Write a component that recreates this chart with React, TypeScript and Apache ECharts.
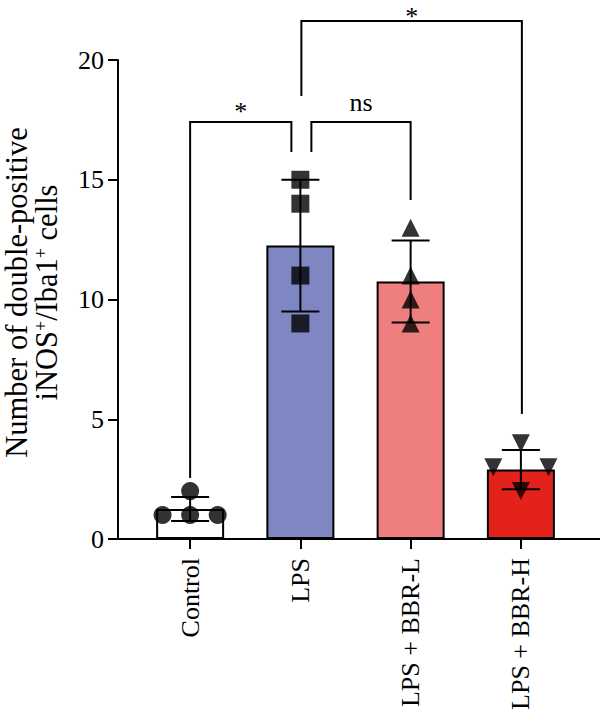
import React, { useEffect, useRef } from "react";
import * as echarts from "echarts";

// Groups and their summary values
const categories = ["Control", "LPS", "LPS + BBR-L", "LPS + BBR-H"];
const means = [1.25, 12.25, 10.75, 2.9];
const sds = [0.5, 2.75, 1.71, 0.82];

// Individual counts per group
const controlPoints = [1, 1, 1, 2];
const lpsPoints = [15, 14, 11, 9];
const bbrLPoints = [13, 11, 10, 9];
const bbrHPoints = [4, 3, 3, 2];

// Y-axis ticks
const yTicks = [0, 5, 10, 15, 20];

const barColors = ["#ffffff", "#7f87c3", "#ef7f7f", "#e3221b"];
const pointSymbols = ["circle", "rect", "triangle", "triangle"];
const pointRotations = [0, 0, 0, 180];

// Significance brackets: [from group, to group, label, bar height, left leg end, right leg end, left inset px, right inset px]
const brackets: [number, number, string, number, number, number, number, number][] = [
  [0, 1, "*", 17.41, 2.55, 16.16, 0, -9],
  [1, 2, "ns", 17.41, 16.16, 14.15, 11, 0],
  [1, 3, "*", 21.63, 18.5, 5.22, 1, 1],
];

const FONT = "'Liberation Serif', 'Times New Roman', serif";

// Spread repeated values sideways so identical points don't overlap
function swarm(values: number[], groupIndex: number, step: number) {
  const seen: Record<string, number> = {};
  const counts: Record<string, number> = {};
  values.forEach((v) => (counts[v] = (counts[v] || 0) + 1));
  return values.map((v) => {
    const n = counts[v];
    const k = seen[v] || 0;
    seen[v] = k + 1;
    let off = 0;
    if (n > 1) {
      if (n % 2 === 1) off = k - (n - 1) / 2;
      else {
        const half = n / 2;
        off = k < half ? -(half - k) : k - half + 1;
      }
    }
    return [groupIndex + off * step, v];
  });
}

export default function App() {
  const ref = useRef<HTMLDivElement>(null);

  useEffect(() => {
    if (!ref.current) return;
    const chart = echarts.init(ref.current, undefined, { renderer: "svg" });

    const groups = [controlPoints, lpsPoints, bbrLPoints, bbrHPoints];

    const pointSeries = groups.map((vals, gi) => ({
      type: "scatter",
      xAxisIndex: 2,
      yAxisIndex: 0,
      symbol: pointSymbols[gi],
      symbolRotate: pointRotations[gi],
      symbolSize: 18,
      itemStyle: { color: "#000000" },
      z: 5,
      silent: true,
      data: swarm(vals, gi, 0.25),
    }));

    const option = {
      animation: false,
      backgroundColor: "#ffffff",
      grid: [
        { left: 135, right: 24, top: 60, bottom: 171, containLabel: false, outerBoundsMode: "none" },
        { left: 118, right: 0, top: 60, bottom: 171, containLabel: false, outerBoundsMode: "none" },
      ],
      xAxis: [
        {
          type: "category",
          gridIndex: 0,
          position: "bottom",
          data: categories,
          boundaryGap: true,
          axisLine: { show: false },
          axisTick: { show: false },
          axisLabel: {
            rotate: 90,
            interval: 0,
            fontSize: 26,
            fontFamily: FONT,
            color: "#000",
            margin: 19,
          },
          splitLine: { show: false },
        },
        {
          type: "value",
          gridIndex: 1,
          position: "bottom",
          min: 0,
          max: 1,
          axisLine: { show: true, onZero: false, lineStyle: { color: "#000", width: 2 } },
          axisTick: { show: false },
          axisLabel: { show: false },
          splitLine: { show: false },
        },
        {
          // group positions on a continuous scale, carrying the tick marks
          type: "value",
          gridIndex: 0,
          position: "bottom",
          min: -0.5,
          max: 3.5,
          axisLine: { show: false, onZero: false },
          axisTick: {
            show: true,
            length: 10,
            customValues: categories.map((_c, i) => i),
            lineStyle: { color: "#000", width: 2 },
          },
          axisLabel: { show: false },
          splitLine: { show: false },
        },
      ],
      yAxis: [
        {
          type: "value",
          gridIndex: 0,
          min: yTicks[0],
          max: yTicks[yTicks.length - 1],
          interval: yTicks[1] - yTicks[0],
          offset: 17,
          axisLine: { show: true, onZero: false, lineStyle: { color: "#000", width: 2 } },
          axisTick: { show: true, length: 10, lineStyle: { color: "#000", width: 2 } },
          axisLabel: { fontSize: 26, fontFamily: FONT, color: "#000", margin: 14 },
          splitLine: { show: false },
          name:
            "{t|Number of double-positive}\n{t|iNOS}{s|+}{t|/Iba1}{s|+}{t| cells}",
          nameLocation: "middle",
          nameRotate: 90,
          nameGap: 56,
          nameTextStyle: {
            fontFamily: FONT,
            fontSize: 30.5,
            color: "#000",
            lineHeight: 30,
            padding: [0, 0, 0, 14],
            rich: {
              t: { fontFamily: FONT, fontSize: 30.5, color: "#000", lineHeight: 30 },
              s: {
                fontFamily: FONT,
                fontSize: 18,
                color: "#000",
                lineHeight: 17,
                verticalAlign: "top",
              },
            },
          },
        },
        { type: "value", gridIndex: 1, min: 0, max: 20, show: false },
      ],
      series: [
        {
          type: "bar",
          xAxisIndex: 0,
          yAxisIndex: 0,
          barWidth: 68,
          silent: true,
          z: 2,
          itemStyle: { borderColor: "#000", borderWidth: 2 },
          data: means.map((v, i) => ({ value: v, itemStyle: { color: barColors[i] } })),
        },
        {
          type: "custom",
          xAxisIndex: 2,
          yAxisIndex: 0,
          z: 4,
          silent: true,
          data: means.map((m, i) => [i, m - sds[i], m + sds[i]]),
          renderItem: (_params: any, api: any) => {
            const x = api.value(0);
            const lo = api.coord([x, api.value(1)]);
            const hi = api.coord([x, api.value(2)]);
            const half = 19;
            const st = { stroke: "#000", lineWidth: 2 };
            return {
              type: "group",
              children: [
                { type: "line", shape: { x1: lo[0], y1: lo[1], x2: hi[0], y2: hi[1] }, style: st },
                { type: "line", shape: { x1: hi[0] - half, y1: hi[1], x2: hi[0] + half, y2: hi[1] }, style: st },
                { type: "line", shape: { x1: lo[0] - half, y1: lo[1], x2: lo[0] + half, y2: lo[1] }, style: st },
              ],
            };
          },
        },
        ...pointSeries,
        {
          type: "custom",
          xAxisIndex: 2,
          yAxisIndex: 0,
          z: 6,
          silent: true,
          clip: false,
          data: brackets.map((b) => [b[0], b[1], b[3], b[4], b[5], b[6], b[7]]),
          renderItem: (params: any, api: any) => {
            const b = brackets[params.dataIndex];
            const left = api.coord([api.value(0), api.value(2)]);
            const right = api.coord([api.value(1), api.value(2)]);
            const lBottom = api.coord([api.value(0), api.value(3)]);
            const rBottom = api.coord([api.value(1), api.value(4)]);
            const lx = left[0] + api.value(5);
            const rx = right[0] + api.value(6);
            const y = left[1];
            const isStar = b[2] === "*";
            // keep the label's text box inside the canvas
            const ly = Math.max(y - (isStar ? 11 : 20), 16);
            return {
              type: "group",
              children: [
                {
                  type: "polyline",
                  shape: {
                    points: [
                      [lx, lBottom[1]],
                      [lx, y],
                      [rx, y],
                      [rx, rBottom[1]],
                    ],
                  },
                  style: { stroke: "#000", lineWidth: 2, fill: "none" },
                },
                {
                  type: "text",
                  style: {
                    text: b[2],
                    x: (lx + rx) / 2,
                    y: ly,
                    align: "center",
                    verticalAlign: "middle",
                    fontFamily: FONT,
                    fontSize: 26,
                    fill: "#000",
                  },
                },
              ],
            };
          },
        },
      ],
    };

    chart.setOption(option as any);
    return () => chart.dispose();
  }, []);

  return (
    <div
      ref={ref}
      style={{ position: "fixed", left: 0, top: 0, width: 600, height: 710, background: "#fff" }}
    />
  );
}
